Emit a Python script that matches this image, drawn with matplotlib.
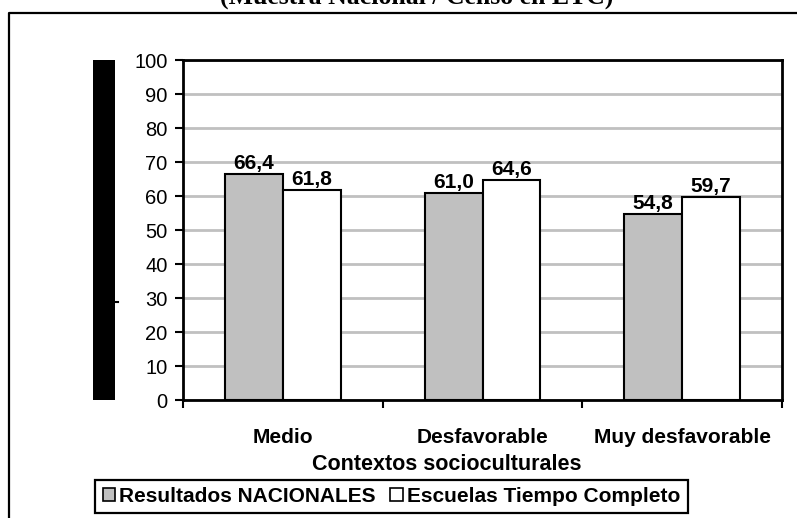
import matplotlib
matplotlib.use('Agg')
import matplotlib.pyplot as plt
from matplotlib.patches import Rectangle, Patch
from matplotlib.lines import Line2D
import numpy as np

plt.rcParams['font.family'] = ['Liberation Sans', 'DejaVu Sans']

contextos = ['Medio', 'Desfavorable', 'Muy desfavorable']
nacionales = [66.4, 61.0, 54.8]
etc = [61.8, 64.6, 59.7]
serie_labels = ['Resultados NACIONALES', 'Escuelas Tiempo Completo']
titulo = '(Muestra Nacional / Censo en ETC)'

W, H = 797, 518
fig = plt.figure(figsize=(W / 100, H / 100), dpi=100)

def fx(px):
    return px / W

def fy(py):
    return 1 - py / H

# marco exterior (cortado a la derecha y abajo)
fig.add_artist(Line2D([fx(9), fx(9), fx(800)], [fy(520), fy(13), fy(13)],
                      transform=fig.transFigure, color='k', lw=1.6))

# titulo cortado arriba
fig.text(fx(417), fy(4), titulo, ha='center', va='baseline',
         fontsize=18.5, fontweight='bold', family='Liberation Serif')

# bloque negro a la izquierda (etiqueta del eje tapada)
fig.add_artist(Rectangle((fx(93), fy(400)), fx(115) - fx(93), fy(60) - fy(400),
                         transform=fig.transFigure, color='k', lw=0))
fig.add_artist(Line2D([fx(115), fx(118)], [fy(302), fy(302)],
                      transform=fig.transFigure, color='k', lw=1.5))

ax = fig.add_axes([fx(183), fy(400), fx(782) - fx(183), fy(60) - fy(400)])

x = np.arange(len(contextos))
w = 0.29
b1 = ax.bar(x - w / 2, nacionales, w, color='#C0C0C0', edgecolor='k', lw=1.5, zorder=3)
b2 = ax.bar(x + w / 2, etc, w, color='white', edgecolor='k', lw=1.5, zorder=3)

for bars, vals in [(b1, nacionales), (b2, etc)]:
    for r, v in zip(bars, vals):
        ax.text(r.get_x() + r.get_width() / 2, v + 0.3, f'{v:.1f}'.replace('.', ','),
                ha='center', va='bottom', fontsize=15, fontweight='bold')

ax.set_xlim(-0.5, 2.5)
ax.set_ylim(0, 100)
ax.set_yticks(range(0, 101, 10))
ax.yaxis.grid(True, color='#C0C0C0', lw=2, zorder=0)
ax.set_axisbelow(True)

ax.set_xticks(x)
ax.set_xticklabels(contextos, fontsize=15, fontweight='bold')
ax.tick_params(axis='x', which='major', length=0, pad=20)
ax.set_xticks([-0.5, 0.5, 1.5, 2.5], minor=True)
ax.tick_params(axis='x', which='minor', length=6, width=1.5, direction='out')
ax.tick_params(axis='y', length=6, width=1.5, direction='out', labelsize=14.5, pad=5)

for s in ax.spines.values():
    s.set_linewidth(2)

fig.text(fx(447), fy(464), 'Contextos socioculturales', ha='center', va='center',
         fontsize=15.5, fontweight='bold')

handles = [Patch(facecolor='#C0C0C0', edgecolor='k', lw=1.2),
           Patch(facecolor='white', edgecolor='k', lw=1.2)]
leg = fig.legend(handles, serie_labels, loc='center',
                 bbox_to_anchor=(fx(391.5), fy(496.5)), ncol=2,
                 prop={'weight': 'bold', 'size': 15},
                 handlelength=0.6, handleheight=0.6, handletextpad=0.2,
                 columnspacing=0.7, borderpad=0.35, borderaxespad=0,
                 fancybox=False, edgecolor='k', framealpha=1)
leg.get_frame().set_linewidth(1.6)

fig.savefig('out.png', dpi=100)
